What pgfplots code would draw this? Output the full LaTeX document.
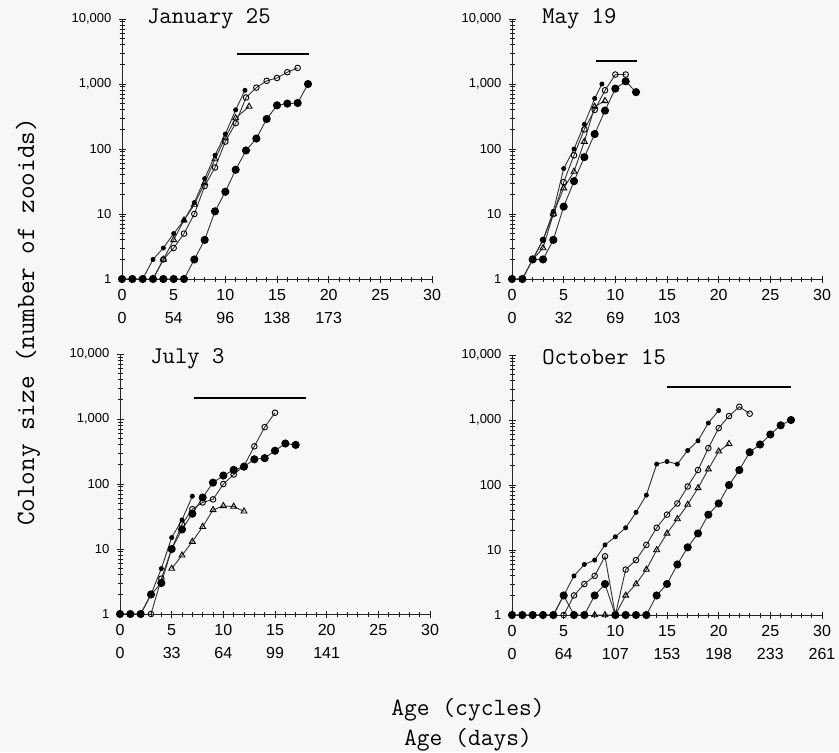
\documentclass[border=0pt]{standalone}
\usepackage{fontspec}
\setmainfont{Liberation Sans}
\usepackage{pgfplots}
\pgfplotsset{compat=1.18}

\tikzset{
  serA/.style={black!80, line width=0.45pt, mark=*, mark size=1pt, mark options={black, fill=black}},
  serB/.style={black!80, line width=0.45pt, mark=o, mark size=1.4pt, mark options={black}},
  serC/.style={black!80, line width=0.45pt, mark=triangle, mark size=1.7pt, mark options={black}},
  serD/.style={black!80, line width=0.45pt, mark=*, mark size=1.8pt, mark options={black, fill=black}},
  hbar/.style={black, line width=0.8pt},
  ptitle/.style={anchor=west, font=\ttfamily\fontsize{12}{13}\selectfont},
}

\begin{document}
\begin{tikzpicture}
\useasboundingbox[fill=black!3] (0,0) rectangle (419.5pt,-376pt);

% January 25
\begin{axis}[ymode=log, xmin=0, xmax=30, ymin=1, ymax=10000,
    scale only axis, width=155pt, height=130pt, at={(61pt,-139.5pt)}, anchor=south west,
    axis x line=bottom, axis y line=left, axis line style={-, black!85, line width=0.5pt},
    xtick={0,5,10,15,20,25,30}, xticklabels={0,5,10,15,20,25,30},
    minor xtick={1,2,3,4,6,7,8,9,11,12,13,14,16,17,18,19,21,22,23,24,26,27,28,29},
    ytick={1,10,100,1000,10000}, yticklabels={1,10,100,{1,000},{10,000}},
    minor ytick={2,3,4,5,6,7,8,9,20,30,40,50,60,70,80,90,200,300,400,500,600,700,800,900,2000,3000,4000,5000,6000,7000,8000,9000},
    tick align=center, major tick length=3.5pt, minor tick length=2.5pt,
    tick style={black!90, line width=0.5pt},
    xticklabel style={font=\fontsize{8}{9}\selectfont},
    yticklabel style={font=\fontsize{6.5}{7}\selectfont},
    clip=false,
    extra x ticks={0,5,10,15,20}, extra x tick labels={0,54,96,138,173},
    extra x tick style={major tick length=0pt, xticklabel style={yshift=-13pt}}]
\addplot[serA] coordinates {(0,1)(1,1)(2,1)(3,2)(4,3)(5,5)(6,8)(7,15)(8,35)(9,80)(10,170)(11,400)(11.9,800)};
\addplot[serB] coordinates {(3,1)(4,2)(5,3)(6,5)(7,10)(8,27)(9,52)(10,130)(11,250)(12,620)(13,880)(14,1120)(15,1240)(16,1520)(17,1770)};
\addplot[serC] coordinates {(3,1)(4,2)(5,4)(6,8)(7,14)(8,30)(9,70)(10,150)(11,300)(12.3,450)};
\addplot[serD] coordinates {(0,1)(1,1)(2,1)(3,1)(4,1)(5,1)(6,1)(7,2)(8,4)(9,11)(10,22)(11,48)(12,95)(13,145)(14,290)(15,470)(16,500)(17,510)(18,1000)};
\addplot[hbar, no marks] coordinates {(11.1,2900)(18.1,2900)};
\node[ptitle] at (rel axis cs:0.058,1) {January 25};
\end{axis}

% May 19
\begin{axis}[ymode=log, xmin=0, xmax=30, ymin=1, ymax=10000,
    scale only axis, width=155pt, height=130pt, at={(256pt,-139.5pt)}, anchor=south west,
    axis x line=bottom, axis y line=left, axis line style={-, black!85, line width=0.5pt},
    xtick={0,5,10,15,20,25,30}, xticklabels={0,5,10,15,20,25,30},
    minor xtick={1,2,3,4,6,7,8,9,11,12,13,14,16,17,18,19,21,22,23,24,26,27,28,29},
    ytick={1,10,100,1000,10000}, yticklabels={1,10,100,{1,000},{10,000}},
    minor ytick={2,3,4,5,6,7,8,9,20,30,40,50,60,70,80,90,200,300,400,500,600,700,800,900,2000,3000,4000,5000,6000,7000,8000,9000},
    tick align=center, major tick length=3.5pt, minor tick length=2.5pt,
    tick style={black!90, line width=0.5pt},
    xticklabel style={font=\fontsize{8}{9}\selectfont},
    yticklabel style={font=\fontsize{6.5}{7}\selectfont},
    clip=false,
    extra x ticks={0,5,10,15}, extra x tick labels={0,32,69,103},
    extra x tick style={major tick length=0pt, xticklabel style={yshift=-13pt}}]
\addplot[serA] coordinates {(0,1)(1,1)(2,2)(3,4)(4,11)(5,50)(6,100)(7,240)(8,600)(8.7,1000)};
\addplot[serB] coordinates {(2,2)(3,4)(4,10)(5,31)(6,80)(7,200)(8,400)(9,800)(10,1400)(11,1400)};
\addplot[serC] coordinates {(2,2)(3,3)(4,10)(5,25)(6,45)(7,130)(8,450)(9,550)};
\addplot[serD] coordinates {(0,1)(1,1)(2,2)(3,2)(4,4)(5,13)(6,32)(7,75)(8,170)(9,390)(10,850)(11,1100)(12,750)};
\addplot[hbar, no marks] coordinates {(8.1,2280)(12.1,2280)};
\node[ptitle] at (rel axis cs:0.075,1) {May 19};
\end{axis}

% July 3
\begin{axis}[ymode=log, xmin=0, xmax=30, ymin=1, ymax=10000,
    scale only axis, width=155pt, height=130pt, at={(60pt,-307pt)}, anchor=south west,
    axis x line=bottom, axis y line=left, axis line style={-, black!85, line width=0.5pt},
    xtick={0,5,10,15,20,25,30}, xticklabels={0,5,10,15,20,25,30},
    minor xtick={1,2,3,4,6,7,8,9,11,12,13,14,16,17,18,19,21,22,23,24,26,27,28,29},
    ytick={1,10,100,1000,10000}, yticklabels={1,10,100,{1,000},{10,000}},
    minor ytick={2,3,4,5,6,7,8,9,20,30,40,50,60,70,80,90,200,300,400,500,600,700,800,900,2000,3000,4000,5000,6000,7000,8000,9000},
    tick align=center, major tick length=3.5pt, minor tick length=2.5pt,
    tick style={black!90, line width=0.5pt},
    xticklabel style={font=\fontsize{8}{9}\selectfont},
    yticklabel style={font=\fontsize{6.5}{7}\selectfont},
    clip=false,
    extra x ticks={0,5,10,15,20}, extra x tick labels={0,33,64,99,141},
    extra x tick style={major tick length=0pt, xticklabel style={yshift=-13pt}}]
\addplot[serA] coordinates {(0,1)(1,1)(2,1)(3,2)(4,5)(5,15)(6,28)(7,65)};
\addplot[serB] coordinates {(3,1)(4,3.5)(5,10)(6,24)(7,41)(8,52)(9,58)(10,100)(11,140)(12,190)(13,380)(14,750)(15,1250)};
\addplot[serC] coordinates {(5,5)(6,8)(7,13)(8,22)(9,40)(10,46)(11,45)(12,38)};
\addplot[serD] coordinates {(0,1)(1,1)(2,1)(3,2)(4,3)(5,10)(6,20)(7,35)(8,62)(9,105)(10,135)(11,165)(12,185)(13,240)(14,250)(15,325)(16,420)(17,400)};
\addplot[hbar, no marks] coordinates {(7.15,2090)(18,2090)};
\node[ptitle] at (rel axis cs:0.075,0.98) {July 3};
\end{axis}

% October 15
\begin{axis}[ymode=log, xmin=0, xmax=30, ymin=1, ymax=10000,
    scale only axis, width=155pt, height=130pt, at={(256pt,-307.5pt)}, anchor=south west,
    axis x line=bottom, axis y line=left, axis line style={-, black!85, line width=0.5pt},
    xtick={0,5,10,15,20,25,30}, xticklabels={0,5,10,15,20,25,30},
    minor xtick={1,2,3,4,6,7,8,9,11,12,13,14,16,17,18,19,21,22,23,24,26,27,28,29},
    ytick={1,10,100,1000,10000}, yticklabels={1,10,100,{1,000},{10,000}},
    minor ytick={2,3,4,5,6,7,8,9,20,30,40,50,60,70,80,90,200,300,400,500,600,700,800,900,2000,3000,4000,5000,6000,7000,8000,9000},
    tick align=center, major tick length=3.5pt, minor tick length=2.5pt,
    tick style={black!90, line width=0.5pt},
    xticklabel style={font=\fontsize{8}{9}\selectfont},
    yticklabel style={font=\fontsize{6.5}{7}\selectfont},
    clip=false,
    extra x ticks={0,5,10,15,20,25,30}, extra x tick labels={0,64,107,153,198,233,261},
    extra x tick style={major tick length=0pt, xticklabel style={yshift=-13pt}}]
\addplot[serA] coordinates {(0,1)(1,1)(2,1)(3,1)(4,1)(5,2)(6,4)(7,6)(8,7)(9,12)(10,16)(11,22)(12,38)(13,70)(14,210)(15,230)(16,210)(17,340)(18,480)(19,900)(20,1400)};
\addplot[serB] coordinates {(5,1)(6,2)(7,3)(8,4)(9,8)(10,1)(11,5)(12,7)(13,12)(14,22)(15,35)(16,52)(17,95)(18,170)(19,370)(20,750)(21,1150)(22,1600)(23,1250)};
\addplot[serC] coordinates {(8,1)(9,1)(10,1)(11,2)(12,3)(13,5)(14,10)(15,18)(16,30)(17,50)(18,90)(19,175)(20,330)(21,430)};
\addplot[serD] coordinates {(0,1)(1,1)(2,1)(3,1)(4,1)(5,2)(6,1)(7,1)(8,2)(9,3)(10,1)(11,1)(12,1)(13,1)(14,2)(15,3)(16,6)(17,11)(18,18)(19,35)(20,52)(21,100)(22,170)(23,320)(24,420)(25,600)(26,830)(27,1000)};
\addplot[hbar, no marks] coordinates {(15,3250)(27,3250)};
\node[ptitle] at (rel axis cs:0.075,0.99) {October 15};
\end{axis}

\node[rotate=90, font=\ttfamily\fontsize{13.2}{14}\selectfont] at (14pt,-161pt) {Colony size (number of zooids)};
\node[font=\ttfamily\fontsize{12.4}{13}\selectfont] at (234pt,-355pt) {Age (cycles)};
\node[font=\ttfamily\fontsize{12.4}{13}\selectfont] at (234pt,-370pt) {Age (days)};
\end{tikzpicture}
\end{document}
